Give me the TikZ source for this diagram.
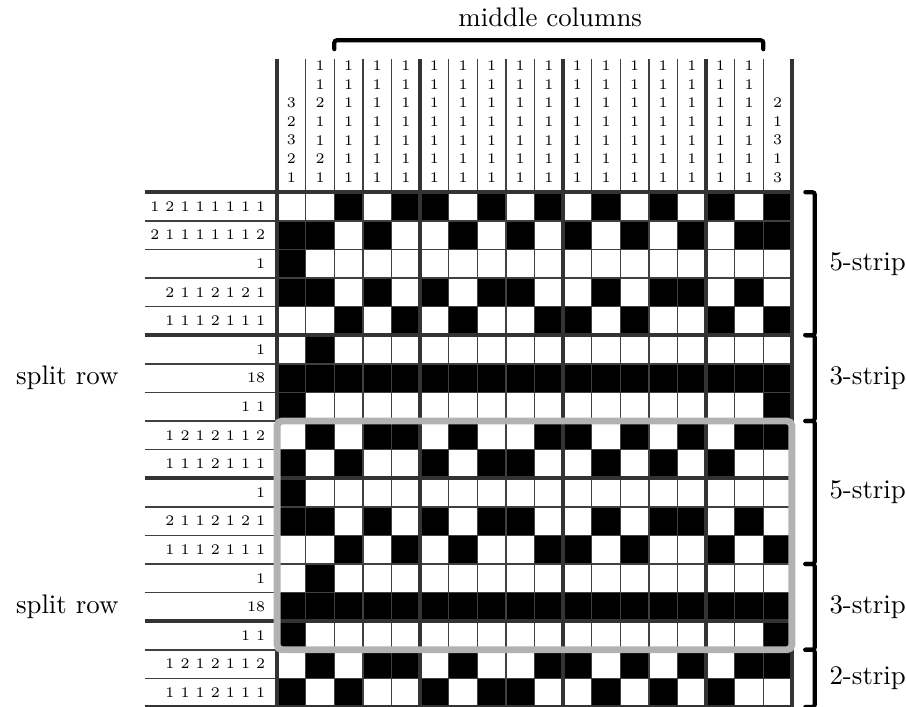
\documentclass[tikz,border=0pt]{standalone}
\usepackage{tikz}
\usetikzlibrary{
    positioning,
    calc
}
\tikzset{
    thinrule/.style={
        draw=black!75,
        line width=0.6pt
    }
}
\tikzset{
    thickrule/.style={
        draw=black!80,
        line width=1.6pt
    }
}
\tikzset{
    clue/.style={
        font=\fontsize{6}{7}\selectfont,
        inner sep=0pt
    }
}
\tikzset{
    bracket/.style={
        draw=black,
        line width=1.7pt,
        line cap=round,
        rounded corners=1pt
    }
}
\tikzset{
    striplabel/.style={
        anchor=west,
        inner sep=0pt
    }
}
\tikzset{
    stripbox/.style={
        draw=black!30,
        line width=2.8pt,
        rounded corners=2pt
    }
}

\begin{document}
\begin{tikzpicture}[
    x=0.41cm,
    y=0.41cm,
    font=\fontsize{10.95}{13.6}\selectfont
]

\useasboundingbox (-9.69,-18) rectangle (21.99,6.72);

% ------------------------------------------------------------
% Filled cells (row / black columns)
% ------------------------------------------------------------

\foreach \r/\cols in {
    1/{3,5,6,8,10,12,14,16,18},
    2/{1,2,4,7,9,11,13,15,17,18},
    3/{1},
    4/{1,2,4,6,8,9,12,14,15,17},
    5/{3,5,7,10,11,13,16,18},
    6/{2},
    7/{1,...,18},
    8/{1,18},
    9/{2,4,5,7,10,11,13,15,17,18},
    10/{1,3,6,8,9,12,14,16},
    11/{1},
    12/{1,2,4,6,8,9,12,14,15,17},
    13/{3,5,7,10,11,13,16,18},
    14/{2},
    15/{1,...,18},
    16/{1,18},
    17/{2,4,5,7,10,11,13,15,17,18},
    18/{1,3,6,8,9,12,14,16}} {
    \foreach \c in \cols {
        \fill (\c-1,-\r+1) rectangle (\c,-\r);
    }
}

% ------------------------------------------------------------
% Rules
% ------------------------------------------------------------

\foreach \i in {0,...,18} {
    \draw[thinrule] (\i,4.65) -- (\i,-18);
    \draw[thinrule] (-4.62,-\i) -- (18,-\i);
}
\foreach \i in {0,5,10,15,18} {
    \draw[thickrule] (\i,4.65) -- (\i,-18);
    \draw[thickrule] (-4.62,-\i) -- (18,-\i);
}

% ------------------------------------------------------------
% Column clues (listed bottom-up)
% ------------------------------------------------------------

\foreach \c/\nums in {1/{1,2,3,2,3}, 2/{1,2,1,1,2,1,1}, 18/{3,1,3,1,2}} {
    \foreach \n [count=\k] in \nums {
        \node[clue] (col\c-\k) at (\c-0.5,0.52+0.65*\k-0.65) {\n};
    }
}
\foreach \c in {3,...,17} {
    \foreach \k in {1,...,7} {
        \node[clue] (col\c-\k) at (\c-0.5,0.52+0.65*\k-0.65) {1};
    }
}

% ------------------------------------------------------------
% Row clues
% ------------------------------------------------------------

\foreach \r/\txt in {
    1/{1 2 1 1 1 1 1 1},
    2/{2 1 1 1 1 1 1 2},
    3/{1},
    4/{2 1 1 2 1 2 1},
    5/{1 1 1 2 1 1 1},
    6/{1},
    7/{18},
    8/{1 1},
    9/{1 2 1 2 1 1 2},
    10/{1 1 1 2 1 1 1},
    11/{1},
    12/{2 1 1 2 1 2 1},
    13/{1 1 1 2 1 1 1},
    14/{1},
    15/{18},
    16/{1 1},
    17/{1 2 1 2 1 1 2},
    18/{1 1 1 2 1 1 1}} {
    \node[clue, anchor=east] (row\r) at (-0.4,-\r+0.5) {\txt};
}

\node (split1) at (-7.34,-6.5) {split row};
\node (split2) at (-7.34,-14.5) {split row};

% ------------------------------------------------------------
% Highlighted block
% ------------------------------------------------------------

\draw[stripbox] (0,-8) rectangle (18,-16);

% ------------------------------------------------------------
% Brackets
% ------------------------------------------------------------

\draw[bracket] (2,5.0) -- (2,5.31) -- (17,5.31) -- (17,5.0);
\node (middle) at (9.55,6.12) {middle columns};

\foreach \a/\b/\lbl in {0/5/5-strip, 5/8/3-strip, 8/13/5-strip, 13/16/3-strip, 16/18/2-strip} {
    \draw[bracket] (18.47,-\a) -- (18.8,-\a) -- (18.8,-\b) -- (18.47,-\b);
    \node[striplabel] (strip\a) at (19.3,-\a/2-\b/2) {\lbl};
}

\end{tikzpicture}
\end{document}
